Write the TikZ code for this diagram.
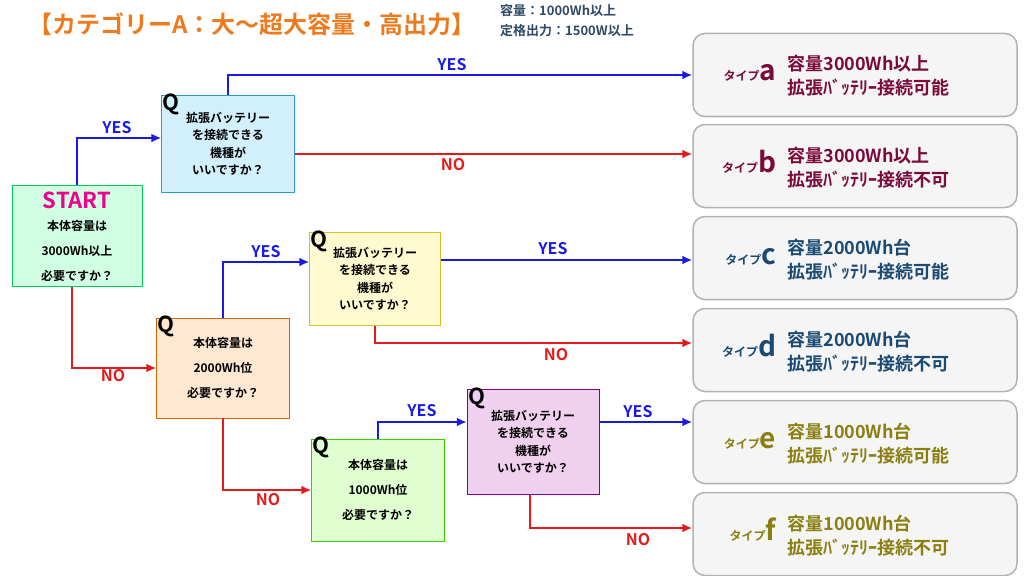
\documentclass[tikz,border=0pt]{standalone}
\usepackage{fontspec}
\setmainfont{Noto Sans CJK JP}[BoldFont={Noto Sans CJK JP Bold}]
\usepackage{xcolor}
\definecolor{yesblue}{HTML}{1A1AE6}
\definecolor{nored}{HTML}{E61A1A}
\definecolor{titleorange}{HTML}{EE7A1E}
\definecolor{noteblue}{HTML}{2E4A66}
\definecolor{typeA}{HTML}{7A0A3A}
\definecolor{typeC}{HTML}{1A4A72}
\definecolor{typeE}{HTML}{8A7F10}
\usetikzlibrary{arrows.meta}
\tikzset{
    qbox/.style = {draw=#1!80!black, fill=#1!18, thin, minimum width=132pt, minimum height=97pt, align=center, font=\bfseries\fontsize{12}{17.5}\selectfont, inner sep=2pt},
    result-box/.style = {draw=gray!60, fill=gray!8, line width=1.5pt, rounded corners=12pt, minimum width=324pt, minimum height=83pt},
    yes-line/.style = {draw=yesblue, line width=2.4pt, -{Latex[length=10pt,width=9pt]}},
    no-line/.style = {draw=nored, line width=2.4pt, -{Latex[length=10pt,width=9pt]}},
    yes-label/.style = {text=yesblue, font=\bfseries\fontsize{16}{16}\selectfont},
    no-label/.style = {text=nored, font=\bfseries\fontsize{16}{16}\selectfont},
}
\newcommand{\resnode}[6]{%
  \node[result-box] (#1) at (855,#2) {};
  \node[text=#3, anchor=base east, inner sep=0pt] at ([xshift=84pt,yshift=-6pt]#1.west) {\bfseries\fontsize{12}{12}\selectfont タイプ\fontsize{28}{28}\selectfont #4};
  \node[text=#3, anchor=base west, inner sep=0pt, font=\bfseries\fontsize{18}{18}\selectfont] at ([xshift=95pt,yshift=4pt]#1.west) {#5};
  \node[text=#3, anchor=base west, inner sep=0pt, font=\bfseries\fontsize{18}{18}\selectfont] at ([xshift=95pt,yshift=-20pt]#1.west) {#6};
}
\begin{document}
\begin{tikzpicture}[x=1pt,y=-1pt]
\useasboundingbox (0,0) rectangle (1024,575);
% title
\node[text=titleorange, font=\bfseries\fontsize{24}{24}\selectfont, anchor=west, inner sep=0pt] (title) at (28,24) {【カテゴリーA：大〜超大容量・高出力】};
\node[text=noteblue, font=\bfseries\fontsize{13}{20}\selectfont, align=left, anchor=north west, inner sep=0pt] (note) at (500,4) {容量：1000Wh以上\\定格出力：1500W以上};
% questions
\node[qbox=green!60!cyan, minimum width=130pt, minimum height=101pt] (start) at (77,236) {};
\node[text=magenta, font=\bfseries\fontsize{22}{22}\selectfont] at (77,200) {START};
\node[align=center, font=\bfseries\fontsize{12}{25}\selectfont] at (77,251) {本体容量は\\3000Wh以上\\必要ですか？};
\node[qbox=cyan, minimum width=133pt] (q1) at (228,144) {拡張バッテリー\\を接続できる\\機種が\\いいですか？};
\node[qbox=yellow!90!orange, minimum width=131pt, minimum height=93pt] (q2) at (375,279) {拡張バッテリー\\を接続できる\\機種が\\いいですか？};
\node[qbox=orange, minimum width=133pt, minimum height=100pt, font=\bfseries\fontsize{12}{25}\selectfont] (q3) at (223,368) {本体容量は\\2000Wh位\\必要ですか？};
\node[qbox=green!70!yellow, minimum width=133pt, minimum height=102pt, font=\bfseries\fontsize{12}{25}\selectfont] (q4) at (378,490) {本体容量は\\1000Wh位\\必要ですか？};
\node[qbox=violet!70!magenta, minimum width=132pt, minimum height=105pt] (q5) at (533,442) {拡張バッテリー\\を接続できる\\機種が\\いいですか？};
\foreach \q in {q1,q2,q3,q4,q5}
  \node[font=\bfseries\fontsize{22}{22}\selectfont, anchor=north west, inner sep=1pt] at ([yshift=3pt]\q.north west) {Q};
% results
\resnode{ra}{75}{typeA}{a}{容量3000Wh以上}{拡張ﾊﾞｯﾃﾘｰ接続可能}
\resnode{rb}{166}{typeA}{b}{容量3000Wh以上}{拡張ﾊﾞｯﾃﾘｰ接続不可}
\resnode{rc}{258}{typeC}{c}{容量2000Wh台}{拡張ﾊﾞｯﾃﾘｰ接続可能}
\resnode{rd}{350}{typeC}{d}{容量2000Wh台}{拡張ﾊﾞｯﾃﾘｰ接続不可}
\resnode{re}{442}{typeE}{e}{容量1000Wh台}{拡張ﾊﾞｯﾃﾘｰ接続可能}
\resnode{rf}{534}{typeE}{f}{容量1000Wh台}{拡張ﾊﾞｯﾃﾘｰ接続不可}
% connectors
\draw[yes-line] (start.north) |- (q1.west |- 0,138);
\node[yes-label] at (117,128) {YES};
\draw[yes-line] (q1.north) |- (ra.west);
\node[yes-label] at (452,65) {YES};
\draw[no-line] (q1.east |- 0,154) -- (rb.west |- 0,154);
\node[no-label] at (453,165) {NO};
\draw[no-line] (start.south -| 72,0) |- (q3.west);
\node[no-label] at (113,376) {NO};
\draw[yes-line] (q3.north) |- (q2.west |- 0,262);
\node[yes-label] at (266,252) {YES};
\draw[yes-line] (q2.east |- 0,260) -- (rc.west |- 0,260);
\node[yes-label] at (553,249) {YES};
\draw[no-line] (q2.south) |- (rd.west |- 0,343);
\node[no-label] at (556,355) {NO};
\draw[no-line] (q3.south) |- (q4.west);
\node[no-label] at (268,500) {NO};
\draw[yes-line] (q4.north) |- (q5.west |- 0,422);
\node[yes-label] at (422,411) {YES};
\draw[yes-line] (q5.east |- 0,422) -- (re.west |- 0,422);
\node[yes-label] at (638,412) {YES};
\draw[no-line] (q5.south -| 530,0) |- (rf.west |- 0,528);
\node[no-label] at (638,540) {NO};
\end{tikzpicture}
\end{document}
